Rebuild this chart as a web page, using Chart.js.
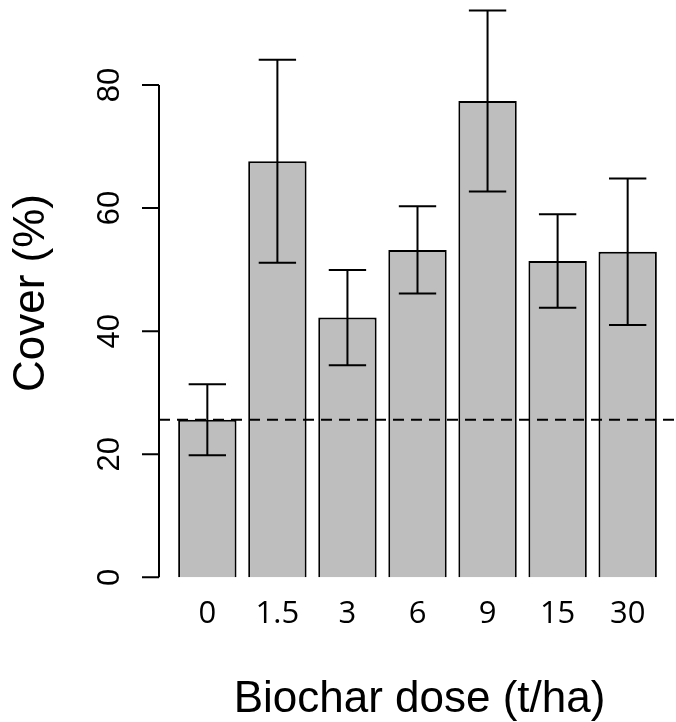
<!DOCTYPE html>
<html lang="en">
<head>
<meta charset="UTF-8">
<title>Biochar dose - cover</title>
<script src="https://cdn.jsdelivr.net/npm/chart.js"></script>
<style>
    html, body { margin: 0; padding: 0; background: #fff; }
    #wrap { width: 676px; height: 722px; }
</style>
</head>
<body>
<div id="wrap"><canvas id="coverChart"></canvas></div>

<script>
    // values
    const doses = ['0', '1.5', '3', '6', '9', '15', '30'];
    const coverMean = [25.6, 67.6, 42.2, 53.2, 77.4, 51.4, 52.9];
    const coverErr = [5.75, 16.5, 7.75, 7.1, 14.7, 7.6, 11.9];
    const yTicks = [0, 20, 40, 60, 80];

    // R barplot layout: width 1, space 0.2, 4% axis extension
    const barPos = i => 0.7 + 1.2 * i;

    const rFont = "'Liberation Sans', Arial, sans-serif";

    const errorBars = {
        id: 'errorBars',
        afterDatasetsDraw(chart) {
            const ctx = chart.ctx;
            const y = chart.scales.y;
            const meta = chart.getDatasetMeta(0);
            ctx.save();
            ctx.strokeStyle = '#000';
            ctx.lineWidth = 2;
            meta.data.forEach((bar, i) => {
                const top = y.getPixelForValue(coverMean[i] + coverErr[i]);
                const bot = y.getPixelForValue(coverMean[i] - coverErr[i]);
                const half = bar.width * 0.32;
                ctx.beginPath();
                ctx.moveTo(bar.x, top); ctx.lineTo(bar.x, bot);
                ctx.moveTo(bar.x - half, top); ctx.lineTo(bar.x + half, top);
                ctx.moveTo(bar.x - half, bot); ctx.lineTo(bar.x + half, bot);
                ctx.stroke();
            });
            // control level, dashed
            const yc = y.getPixelForValue(coverMean[0]);
            ctx.setLineDash([11, 7]);
            ctx.beginPath();
            ctx.moveTo(chart.chartArea.left, yc);
            ctx.lineTo(chart.chartArea.right, yc);
            ctx.stroke();
            ctx.restore();
        }
    };

    const rAxes = {
        id: 'rAxes',
        afterDraw(chart) {
            const ctx = chart.ctx;
            const x = chart.scales.x, y = chart.scales.y;
            const left = chart.chartArea.left;
            ctx.save();
            ctx.strokeStyle = '#000';
            ctx.fillStyle = '#000';
            ctx.lineWidth = 2;

            // y axis line + ticks
            ctx.beginPath();
            ctx.moveTo(left, y.getPixelForValue(yTicks[0]));
            ctx.lineTo(left, y.getPixelForValue(yTicks[yTicks.length - 1]));
            yTicks.forEach(t => {
                const py = y.getPixelForValue(t);
                ctx.moveTo(left, py);
                ctx.lineTo(left - 17, py);
            });
            ctx.stroke();

            // rotated y tick labels
            ctx.font = '31px ' + rFont;
            ctx.textAlign = 'center';
            ctx.textBaseline = 'alphabetic';
            yTicks.forEach(t => {
                ctx.save();
                ctx.translate(left - 40, y.getPixelForValue(t));
                ctx.rotate(-Math.PI / 2);
                ctx.fillText(String(t), 0, 0);
                ctx.restore();
            });

            // bar names, one per x tick
            ctx.font = "31px 'Open Sans', sans-serif";
            x.ticks.forEach((t, i) => {
                ctx.fillText(doses[i], x.getPixelForValue(t.value), 623);
            });

            // axis titles
            ctx.font = '44px ' + rFont;
            ctx.fillText('Biochar dose (t/ha)', (chart.chartArea.left + chart.chartArea.right) / 2 + 2, 712);
            ctx.save();
            ctx.translate(44, 293);
            ctx.rotate(-Math.PI / 2);
            ctx.fillText('Cover (%)', 0, 0);
            ctx.restore();
            ctx.restore();
        }
    };

    new Chart(document.getElementById('coverChart'), {
        type: 'bar',
        data: {
            datasets: [{
                data: coverMean.map((m, i) => ({ x: barPos(i), y: m })),
                backgroundColor: '#bebebe',
                borderColor: '#000',
                borderWidth: 2,
                barPercentage: 1 / 1.2,
                categoryPercentage: 1
            }]
        },
        options: {
            responsive: true,
            maintainAspectRatio: false,
            animation: false,
            layout: { padding: { left: 159, right: 0, top: 0, bottom: 122 } },
            plugins: { legend: { display: false }, tooltip: { enabled: false } },
            scales: {
                x: {
                    type: 'linear', display: false, offset: false, grid: { offset: false },
                    min: -0.128, max: 8.728,
                    afterBuildTicks: s => { s.ticks = doses.map((d, i) => ({ value: barPos(i) })); }
                },
                y: { display: false, min: -3.69, max: 93.81 }
            }
        },
        plugins: [errorBars, rAxes]
    });
</script>
</body>
</html>
